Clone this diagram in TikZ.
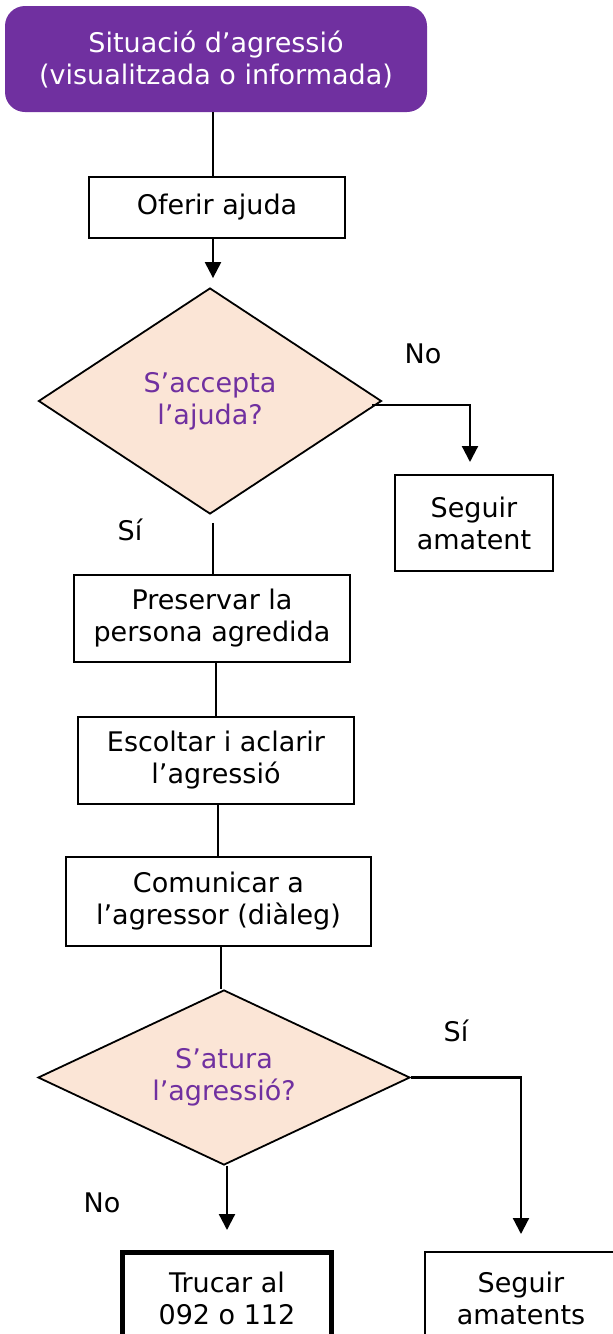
\documentclass[tikz,border=0pt]{standalone}
\usepackage{fontspec}
\setmainfont{DejaVu Sans}
\usetikzlibrary{shapes.geometric,arrows.meta}
\definecolor{purp}{HTML}{7030A0}
\definecolor{peach}{HTML}{FBE5D6}
\begin{document}
\begin{tikzpicture}[x=1pt,y=-1pt,
  every node/.style={font=\fontsize{27}{32}\selectfont, align=center, inner sep=0pt},
  box/.style={draw=black, line width=2pt, fill=white, rectangle},
  startbox/.style={fill=purp, text=white, rounded corners=20pt, rectangle},
  decision/.style={diamond, draw=black, line width=1.8pt, fill=peach, text=purp},
  conn/.style={line width=2.2pt},
  arr/.style={line width=2.2pt, -{Triangle[length=16pt,width=16pt]}},
  lbl/.style={text=black}]
\useasboundingbox (0,0) rectangle (613,1334);
\node[startbox, minimum width=422pt, minimum height=106pt] (start) at (216,59) {Situació d’agressió\\(visualitzada o informada)};
\node[box, minimum width=256pt, minimum height=61pt] (oferir) at (217,207.5) {Oferir ajuda};
\node[decision, aspect=1.5, minimum width=343pt, minimum height=226pt] (d1) at (210,401) {S’accepta\\l’ajuda?};
\node[box, minimum width=158pt, minimum height=96pt] (seg1) at (474,523) {Seguir\\amatent};
\node[box, minimum width=276pt, minimum height=87pt] (pres) at (212,618.5) {Preservar la\\persona agredida};
\node[box, minimum width=276pt, minimum height=87pt] (esc) at (216,760.5) {Escoltar i aclarir\\l’agressió};
\node[box, minimum width=305pt, minimum height=89pt] (com) at (218.5,901.5) {Comunicar a\\l’agressor (diàleg)};
\node[decision, aspect=2.1, minimum width=372pt, minimum height=175pt] (d2) at (224,1077.5) {S’atura\\l’agressió?};
\node[box, line width=5pt, minimum width=209pt, minimum height=92pt] (truc) at (227,1298.5) {Trucar al\\092 o 112};
\node[box, minimum width=192pt, minimum height=92pt] (seg2) at (521,1298) {Seguir\\amatents};
\node[lbl] (no1) at (423,354) {No};
\node[lbl] (si1) at (130,530) {Sí};
\node[lbl] (si2) at (456,1031) {Sí};
\node[lbl] (no2) at (102,1203) {No};
\draw[conn] (oferir.north -| 213,0) -- (start.south -| 213,0);
\draw[arr, shorten >=9pt] (oferir.south -| 213,0) -- (d1.north -| 213,0);
\draw[conn, shorten <=8pt] (d1.south -| 213,0) -- (pres.north -| 213,0);
\draw[arr, shorten >=12pt] ([xshift=-10pt,yshift=-4pt]d1.east) -| (seg1.north -| 470,0);
\draw[conn] (pres.south -| 216,0) -- (esc.north -| 216,0);
\draw[conn] (esc.south -| 218,0) -- (com.north -| 218,0);
\draw[conn] (com.south -| 221,0) -- (d2.north -| 221,0);
\draw[arr, shorten >=20pt] (d2.south -| 227,0) -- (truc.north);
\draw[arr, shorten >=17pt] (d2.east) -| (seg2.north);
\end{tikzpicture}
\end{document}
